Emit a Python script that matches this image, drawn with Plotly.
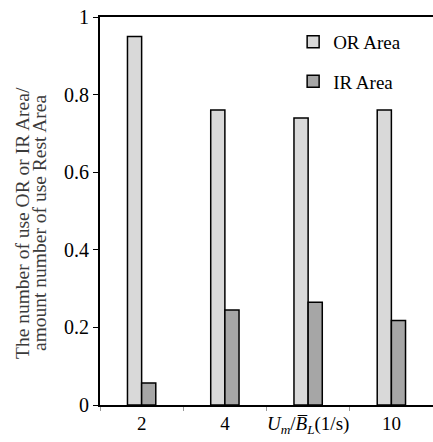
import plotly.graph_objects as go

categories = ["2", "4", "6", "10"]
tick_labels = ["2", "4", "<i>U<sub>m</sub></i>/<i>B̅<sub>L</sub></i>(1/s)", "10"]
or_area = [0.95, 0.76, 0.74, 0.76]
ir_area = [0.057, 0.245, 0.265, 0.218]
y_title_lines = ["The number of use OR or IR Area/", "amount number of use Rest Area"]

font_family = "Liberation Serif, Times New Roman, serif"

fig = go.Figure()
fig.add_trace(go.Bar(x=categories, y=or_area, name="OR Area", legendgroup="a",
                     marker=dict(color="#d9d9d9", line=dict(color="black", width=1.5))))
fig.add_trace(go.Bar(x=categories, y=ir_area, name="IR Area", legendgroup="b",
                     marker=dict(color="#a6a6a6", line=dict(color="black", width=1.5))))

fig.update_layout(
    width=433, height=442,
    margin=dict(l=100, r=0, t=17, b=37),
    plot_bgcolor="white", paper_bgcolor="white",
    barmode="group", bargap=0.66, bargroupgap=0,
    font=dict(family=font_family, color="black", size=19),
    legend=dict(x=0.58, y=0.985, xanchor="left", yanchor="top",
                bgcolor="rgba(0,0,0,0)", font=dict(size=19),
                itemwidth=30, tracegroupgap=12),
    showlegend=True,
)
fig.update_xaxes(
    type="category", tickvals=categories, ticktext=tick_labels,
    showline=True, linecolor="black", linewidth=2, mirror=True,
    ticks="outside", ticklen=4, tickcolor="#999", tickson="boundaries",
    showgrid=False, tickfont=dict(size=19), tickangle=0, automargin=False,
)
fig.update_yaxes(
    range=[0, 1], tickvals=[0, 0.2, 0.4, 0.6, 0.8, 1],
    ticktext=["0", "0.2", "0.4", "0.6", "0.8", "1"],
    showline=True, linecolor="black", linewidth=2,
    ticks="outside", ticklen=5, tickcolor="black",
    showgrid=False, zeroline=False, tickfont=dict(size=20), automargin=False,
)
for txt, px in zip(y_title_lines, [22, 39]):
    fig.add_annotation(text=txt, xref="paper", yref="paper",
                       x=(px - 100) / 333, y=(405 - 223) / 388, textangle=-90,
                       showarrow=False, xanchor="center", yanchor="middle",
                       font=dict(size=19.5, color="#3a3a3a"))

fig.write_html("out.html")
